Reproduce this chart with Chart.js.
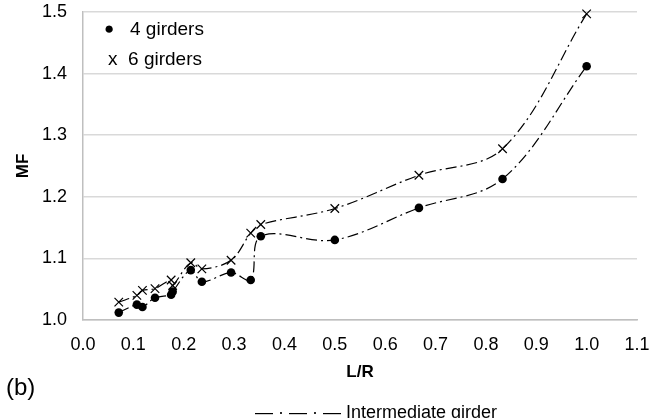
<!DOCTYPE html>
<html>
<head>
<meta charset="utf-8">
<script src="https://cdn.jsdelivr.net/npm/chart.js@4/dist/chart.umd.min.js"></script>
<style>
  html, body { margin: 0; padding: 0; background: #ffffff; }
  #wrap { position: relative; width: 661px; height: 418px; overflow: hidden; font-family: "Liberation Sans", Arial, sans-serif; color: #000; }
  #c { position: absolute; left: 0; top: 0; }
  .lbl { position: absolute; white-space: nowrap; }
</style>
</head>
<body>
<div id="wrap">
  <canvas id="c" width="661" height="418"></canvas>
  <div class="lbl" style="left:104px; top:18px; font-size:19px; line-height:22px;"><span style="font-size:17px; position:relative; top:-1px;">●</span></div>
  <div class="lbl" style="left:130px; top:18px; font-size:19px; line-height:22px;">4 girders</div>
  <div class="lbl" style="left:108px; top:48px; font-size:19px; line-height:22px;">x&nbsp;&nbsp;6 girders</div>
  <div class="lbl" style="left:6px; top:373px; font-size:24px; line-height:28px;">(b)</div>
  <div class="lbl" style="left:255px; top:402px; font-size:18px; line-height:20px;">— · — · — Intermediate girder</div>
</div>
<script>
// L/R values (shared by both series)
const lr = [0.071, 0.107, 0.118, 0.143, 0.175, 0.178, 0.214, 0.236, 0.294, 0.333, 0.353, 0.5, 0.667, 0.833, 1.0];
// MF, 4 girders
const mf4 = [1.012, 1.025, 1.021, 1.036, 1.041, 1.046, 1.081, 1.062, 1.077, 1.065, 1.136, 1.130, 1.182, 1.229, 1.412];
// MF, 6 girders
const mf6 = [1.029, 1.040, 1.048, 1.051, 1.065, 1.056, 1.093, 1.083, 1.097, 1.141, 1.155, 1.181, 1.235, 1.278, 1.497];
const seriesNames = ["4 girders", "6 girders"];
const xTitle = "L/R";
const yTitle = "MF";
const xTickValues = [0, 0.1, 0.2, 0.3, 0.4, 0.5, 0.6, 0.7, 0.8, 0.9, 1.0, 1.1];
const yTickValues = [1.0, 1.1, 1.2, 1.3, 1.4, 1.5];

const toPts = (xs, ys) => xs.map((x, i) => ({ x: x, y: ys[i] }));
const dash = [11, 4, 2, 4];

new Chart(document.getElementById('c'), {
  type: 'scatter',
  data: {
    datasets: [
      {
        label: seriesNames[0],
        data: toPts(lr, mf4),
        showLine: true,
        borderColor: '#000',
        backgroundColor: '#000',
        borderWidth: 1.2,
        borderDash: dash,
        tension: 0.35,
        pointStyle: 'circle',
        pointRadius: 4.3,
        pointBorderWidth: 0,
        pointBackgroundColor: '#000'
      },
      {
        label: seriesNames[1],
        data: toPts(lr, mf6),
        showLine: true,
        borderColor: '#000',
        backgroundColor: '#000',
        borderWidth: 1.2,
        borderDash: dash,
        tension: 0.35,
        pointStyle: 'crossRot',
        pointRadius: 6,
        pointBorderWidth: 1.2,
        pointBorderColor: '#000'
      }
    ]
  },
  options: {
    responsive: false,
    animation: false,
    clip: false,
    layout: { padding: { left: 0, right: 24, top: 12, bottom: 0 } },
    plugins: { legend: { display: false }, tooltip: { enabled: false } },
    scales: {
      x: {
        type: 'linear',
        min: 0, max: 1.1,
        afterFit: s => { s.height = 98; s.paddingLeft = 0; s.paddingRight = 0; },
        afterBuildTicks: s => { s.ticks = xTickValues.map(v => ({ value: v })); },
        grid: { display: false, drawTicks: false },
        border: { display: true, color: '#bfbfbf', width: 1.5 },
        ticks: {
          padding: 14,
          color: '#000',
          font: { family: 'Liberation Sans', size: 18 },
          maxRotation: 0,
          autoSkip: false,
          callback: v => Number(v).toFixed(1)
        },
        title: {
          display: true,
          text: xTitle,
          color: '#000',
          font: { family: 'Liberation Sans', size: 17, weight: 'bold' },
          padding: { top: 0, bottom: 35.8 }
        }
      },
      y: {
        type: 'linear',
        min: 1.0, max: 1.5,
        afterFit: s => { s.width = 83; s.paddingTop = 0; s.paddingBottom = 0; },
        afterBuildTicks: s => { s.ticks = yTickValues.map(v => ({ value: v })); },
        grid: { color: '#d9d9d9', lineWidth: 1.5, drawTicks: false },
        border: { display: true, color: '#bfbfbf', width: 1.5 },
        ticks: {
          padding: 16,
          color: '#000',
          font: { family: 'Liberation Sans', size: 18 },
          callback: v => Number(v).toFixed(1)
        },
        title: {
          display: true,
          text: yTitle,
          color: '#000',
          font: { family: 'Liberation Sans', size: 17, weight: 'bold' },
          padding: { top: 13, bottom: 0 }
        }
      }
    }
  }
});
</script>
</body>
</html>
